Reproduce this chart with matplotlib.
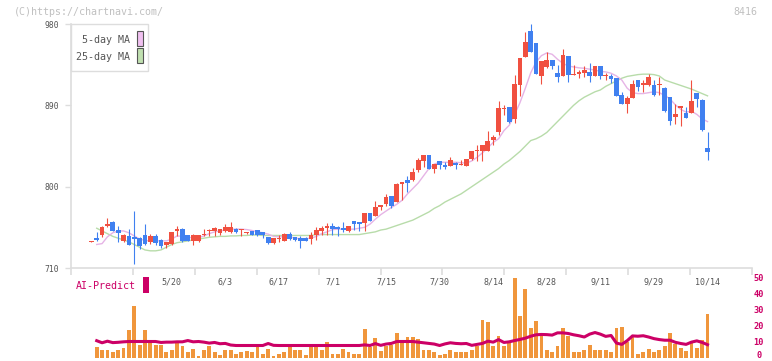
import matplotlib
matplotlib.use('Agg')
import matplotlib.pyplot as plt
import matplotlib.transforms as mtransforms
from matplotlib.patches import Rectangle
import numpy as np

plt.rcParams['font.family'] = ['DejaVu Sans Mono', 'DejaVu Sans']

# daily candles, index 0 = first day shown
opens = [739, 743, 746, 757, 761, 752, 740, 745, 744, 743,
         746, 739, 745, 741, 736, 737, 751, 753, 747, 740,
         740, 746, 751, 751, 749, 751, 750, 753, 752, 749,
         751, 752, 750, 744, 738, 742, 740, 748, 744, 743,
         743, 742, 746, 751, 754, 757, 755, 754, 751, 762,
         761, 760, 771, 768, 777, 781, 790, 783, 803, 807,
         807, 818, 828, 835, 819, 828, 824, 823, 826, 824,
         823, 831, 839, 839, 840, 852, 860, 886, 888, 875,
         913, 943, 972, 959, 922, 932, 940, 926, 923, 945,
         924, 925, 926, 927, 922, 933, 922, 922, 920, 901,
         892, 898, 918, 912, 912, 912, 912, 909, 899, 877,
         887, 882, 882, 904, 896, 843]
highs = [740, 750, 756, 765, 762, 756, 748, 753, 773, 744,
         759, 748, 748, 742, 739, 750, 757, 754, 747, 748,
         747, 753, 753, 755, 753, 759, 761, 754, 753, 750,
         751, 752, 750, 744, 743, 746, 749, 750, 744, 745,
         744, 750, 755, 756, 760, 760, 757, 761, 757, 762,
         761, 771, 771, 784, 780, 792, 790, 804, 805, 812,
         821, 832, 835, 835, 825, 828, 827, 833, 827, 829,
         831, 839, 846, 846, 862, 857, 895, 890, 888, 924,
         942, 971, 980, 959, 939, 949, 940, 935, 952, 945,
         935, 929, 933, 937, 934, 934, 926, 925, 920, 905,
         900, 918, 918, 918, 925, 918, 921, 910, 899, 891,
         889, 888, 918, 904, 897, 861]
lows = [739, 740, 744, 755, 751, 739, 739, 736, 714, 731,
        735, 737, 735, 732, 732, 736, 745, 739, 740, 736,
        739, 745, 745, 745, 747, 750, 749, 749, 745, 748,
        746, 745, 743, 737, 737, 739, 740, 741, 740, 732,
        740, 737, 741, 746, 746, 746, 745, 750, 750, 752,
        751, 751, 762, 767, 774, 779, 776, 783, 785, 794,
        806, 816, 822, 819, 815, 819, 819, 823, 819, 824,
        823, 830, 828, 828, 840, 846, 857, 879, 871, 870,
        900, 943, 949, 925, 914, 931, 930, 916, 923, 916,
        924, 920, 921, 916, 922, 919, 918, 915, 900, 891,
        882, 898, 906, 905, 911, 900, 901, 883, 868, 869,
        867, 876, 881, 888, 862, 829]
closes = [740, 741, 755, 758, 751, 749, 746, 736, 742, 734,
          737, 745, 738, 734, 739, 750, 753, 740, 740, 747,
          747, 747, 752, 754, 753, 755, 755, 750, 753, 750,
          746, 747, 746, 738, 743, 743, 748, 742, 741, 740,
          740, 747, 752, 754, 757, 753, 753, 752, 756, 759,
          759, 771, 762, 777, 780, 789, 779, 803, 805, 804,
          816, 829, 835, 819, 825, 824, 822, 829, 824, 825,
          831, 839, 840, 846, 850, 855, 887, 887, 872, 914,
          942, 960, 949, 925, 939, 940, 933, 921, 946, 924,
          925, 927, 929, 922, 933, 922, 923, 919, 900, 891,
          898, 914, 910, 915, 921, 901, 913, 884, 873, 880,
          889, 876, 895, 897, 863, 838]

# series from the second day on
ma5 = [736, 737, 744.5, 749, 751, 751, 749, 745.5, 742, 740.5,
       740, 740, 740, 740, 742, 745.5, 745, 744, 743.5, 743.5,
       745.5, 748, 750, 751, 752, 753, 753, 753, 752.5, 751.5,
       750, 749, 747.5, 745, 744.5, 744.5, 744.5, 743, 742.5, 742.5,
       743, 745, 748, 750, 752.5, 753, 753, 753, 753, 754,
       755, 758.5, 764, 769, 773, 777, 780.5, 785, 792, 798,
       804, 812, 820, 825, 827, 827, 827, 827, 826.5, 826,
       828.5, 832.5, 837.5, 843, 849, 853, 862, 868, 880, 893,
       909, 926, 938, 945, 948, 946.5, 941, 936.5, 933.5, 932.5,
       931.5, 931, 930, 929, 927.5, 927, 925.5, 922.5, 918, 909,
       904, 903, 903, 904, 905, 904, 901, 897, 890.5, 885.5,
       882.5, 883.5, 880, 875, 872]
ma25 = [754, 751, 748, 745, 743, 741, 739, 736, 733, 730,
        729, 729, 730, 733, 736, 738, 739, 740, 741, 742,
        743, 744, 744.5, 745, 745, 745.5, 745.5, 746, 746, 746.5,
        746.5, 746, 746, 746, 746, 746, 746, 746, 746, 746,
        746, 747, 747, 747, 747, 747, 747, 747, 747, 747,
        748, 749, 750, 752, 753, 755, 757, 759, 761, 763,
        766, 769, 772, 776, 779, 783, 786, 789, 792, 796,
        800, 804, 808, 812, 816, 820, 825, 829, 834, 839,
        845, 851, 853, 856, 860, 866, 872, 878, 884, 890,
        895, 899, 902, 905, 907, 911, 914, 917, 920, 922,
        923, 924, 924.5, 924.5, 924, 922.5, 918, 916, 914, 912,
        910, 908, 905.5, 903, 900.5]
volume = [6.4, 5.0, 5.0, 3.75, 4.6, 6.25, 17.5, 32.1, 8.1, 16.9,
          10.6, 8.1, 8.1, 3.3, 5.0, 9.2, 7.1, 3.3, 5.4, 1.25,
          5.0, 7.1, 3.3, 1.7, 4.6, 4.6, 1.9, 3.3, 4.0, 3.3,
          6.4, 1.9, 5.6, 1.25, 2.5, 3.75, 6.4, 4.4, 5.0, 1.7,
          6.4, 6.4, 4.4, 10.0, 2.0, 2.0, 5.6, 3.3, 2.0, 2.5,
          18.1, 6.4, 12.5, 4.0, 7.5, 8.1, 15.6, 9.8, 12.7, 13.1,
          11.5, 5.0, 5.0, 3.3, 1.7, 2.0, 5.0, 3.3, 3.3, 3.3,
          4.4, 7.5, 23.75, 22.1, 6.9, 13.75, 7.5, 9.2, 49.4, 26.25,
          43.1, 18.5, 22.7, 13.3, 5.0, 3.75, 7.5, 18.5, 13.3, 3.75,
          3.3, 5.0, 8.1, 4.6, 5.0, 4.4, 3.75, 18.5, 19.2, 9.4,
          13.1, 2.5, 3.3, 5.6, 3.3, 4.6, 7.5, 15.4, 8.3, 6.25,
          4.0, 9.2, 6.25, 11.25, 26.9]
ai_predict = [10.5, 9.2, 10.2, 9.3, 9.5, 9.8, 10.0, 10.0, 10.0, 10.0,
              10.0, 10.0, 9.4, 9.6, 9.6, 9.8, 9.8, 10.6, 9.8, 10.0,
              9.6, 9.0, 9.4, 8.6, 8.8, 7.8, 7.5, 7.5, 7.5, 7.5,
              7.5, 7.5, 8.75, 7.6, 7.5, 7.5, 7.5, 7.5, 7.5, 7.5,
              7.5, 7.5, 7.5, 7.5, 7.5, 7.5, 7.5, 7.5, 7.5, 7.5,
              7.9, 7.5, 8.7, 7.6, 8.4, 8.8, 10.0, 10.0, 10.0, 10.0,
              9.6, 9.2, 8.8, 8.4, 7.5, 8.5, 9.2, 8.8, 8.6, 8.75,
              7.6, 8.2, 8.8, 10.2, 9.6, 11.2, 9.4, 9.8, 10.6, 11.3,
              12.1, 13.3, 14.2, 14.4, 14.3, 14.0, 15.4, 15.4, 15.0, 14.2,
              13.6, 12.8, 14.6, 15.6, 14.6, 13.2, 13.75, 9.0, 8.2, 10.5,
              13.5, 13.3, 13.6, 12.8, 11.8, 11.2, 10.8, 10.8, 9.5, 8.75,
              8.2, 9.6, 10.4, 9.4, 8.0]

date_labels = ['5/20', '6/3', '6/17', '7/1', '7/15', '7/30', '8/14', '8/28', '9/11', '9/29', '10/14']
date_index = [15, 25, 35, 45, 55, 65, 75, 85, 95, 105, 115]
price_ticks = [710, 800, 890, 980]
vol_ticks = [0, 10, 20, 30, 40, 50]

W, H = 772, 361
def fx(px):
    return px / W
def fy(py):
    return 1 - py / H

up_col = '#f05040'
down_col = '#4080f0'
mag = '#cc0066'
grid_col = '#dddddd'
txt_col = '#555555'

fig = plt.figure(figsize=(W / 100, H / 100), dpi=100)
ax = fig.add_axes([fx(71), fy(268), fx(752) - fx(71), fy(24) - fy(268)])
ax2 = fig.add_axes([fx(71), fy(357.5), fx(752) - fx(71), fy(277.5) - fy(357.5)])
ax2.patch.set_visible(False)

n = len(closes)
x = np.arange(n)
o = np.array(opens); c = np.array(closes)
cols = [up_col if c[i] >= o[i] else down_col for i in range(n)]
bottoms = np.minimum(o, c)
heights = np.maximum(np.abs(c - o), 1.2)

ax.vlines(x, lows, highs, colors=cols, linewidth=0.8, zorder=3)
ax.bar(x, heights, bottom=bottoms, width=0.88, color=cols, linewidth=0, zorder=4)

x1 = np.arange(1, n)
ax.plot(x1, ma25, color='#b8dcaa', linewidth=1.0, zorder=2)
ax.plot(x1, ma5, color='#e6b4e6', linewidth=1.0, zorder=2)

xmin, xmax = -3.8, 123.3
ax.set_xlim(xmin, xmax)
ax.set_ylim(710, 980)
ax.set_yticks(price_ticks)
ax.set_xticks(np.linspace(xmin, xmax, 12))
ax.set_xticklabels([])
for s in ['top', 'right']:
    ax.spines[s].set_visible(False)
for s in ['left', 'bottom']:
    ax.spines[s].set_color(grid_col)
    ax.spines[s].set_linewidth(1.2)
ax.tick_params(axis='y', length=4.3, width=1, color=grid_col, labelsize=5.8,
               labelcolor=txt_col, pad=4)
ax.tick_params(axis='x', length=5, width=1.2, color=grid_col, direction='out')

# date labels under the price axis
for lab, idx in zip(date_labels, date_index):
    ax.text(idx, -0.058, lab, transform=ax.get_xaxis_transform(), ha='center',
            va='center', fontsize=6, color=txt_col, zorder=10)

# volume + AI-Predict
ax2.bar(x1, volume, width=0.72, color='#f0963c', linewidth=0)
ax2.plot(x1, ai_predict, color=mag, linewidth=2.2)
ax2.set_xlim(xmin, xmax)
ax2.set_ylim(0, 50)
for s in ax2.spines.values():
    s.set_visible(False)
ax2.set_xticks([])
ax2.set_yticks(vol_ticks)
ax2.yaxis.tick_right()
ax2.tick_params(axis='y', length=0, pad=5, labelsize=6.2, labelcolor=mag)
lift = mtransforms.ScaledTranslation(0, 2.5 / 72, fig.dpi_scale_trans)
for k, lbl in enumerate(ax2.get_yticklabels()):
    lbl.set_horizontalalignment('center')
    lbl.set_fontweight('bold')
    if k == 0:
        lbl.set_transform(lbl.get_transform() + lift)

# header texts
fig.text(fx(14), fy(12), '(C)https://chartnavi.com/', fontsize=7.2, color='#c0c0c0',
         ha='left', va='center')
fig.text(fx(757), fy(12), '8416', fontsize=7.2, color='#c0c0c0', ha='right', va='center')

# MA legend box
fig.add_artist(Rectangle((fx(71), fy(71)), fx(148) - fx(71), fy(24) - fy(71),
                         transform=fig.transFigure, facecolor='white',
                         edgecolor=grid_col, linewidth=1))
fig.text(fx(129.5), fy(40), '5-day MA', fontsize=7.2, color=txt_col, ha='right', va='center')
fig.text(fx(129.5), fy(57), '25-day MA', fontsize=7.2, color=txt_col, ha='right', va='center')
fig.add_artist(Rectangle((fx(137), fy(46)), fx(142.5) - fx(137), fy(31) - fy(46),
                         transform=fig.transFigure, facecolor='#f0c0f0',
                         edgecolor='#555555', linewidth=0.8))
fig.add_artist(Rectangle((fx(137), fy(63)), fx(142.5) - fx(137), fy(48) - fy(63),
                         transform=fig.transFigure, facecolor='#c0e0b0',
                         edgecolor='#555555', linewidth=0.8))

# AI-Predict label
fig.text(fx(76), fy(286), 'AI-Predict', fontsize=7.2, color=mag, ha='left', va='center')
fig.add_artist(Rectangle((fx(142.5), fy(293)), fx(149) - fx(142.5), fy(277) - fy(293),
                         transform=fig.transFigure, facecolor=mag, linewidth=0))

fig.savefig('out.png', dpi=100)
